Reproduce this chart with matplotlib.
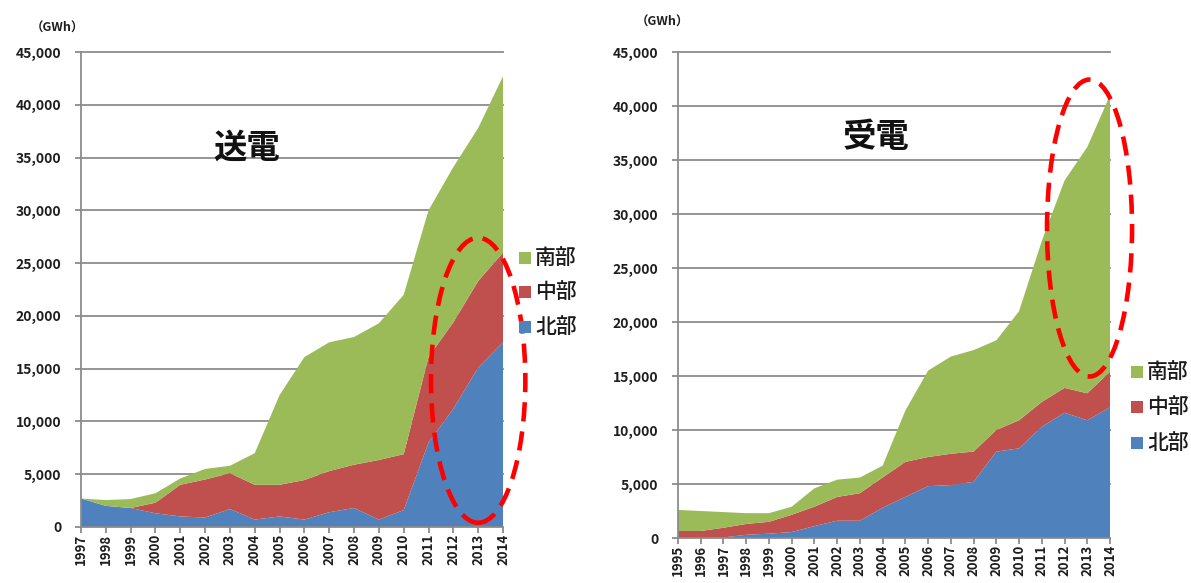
import matplotlib
matplotlib.use("Agg")
import matplotlib.pyplot as plt
from matplotlib.patches import Ellipse, Rectangle
from matplotlib.ticker import FuncFormatter

plt.rcParams["font.family"] = ["Noto Sans CJK JP", "DejaVu Sans"]

# Regions, bottom to top of the stack
regions = ["北部", "中部", "南部"]
colors = ["#4F81BD", "#C0504D", "#9BBB59"]

# 送電 (electricity sent), GWh
send_years = list(range(1997, 2015))
send_north = [2700, 2000, 1800, 1300, 1000, 900, 1700, 700, 1000, 700,
              1400, 1800, 700, 1600, 8000, 11200, 15100, 17500]
send_central = [0, 0, 0, 1000, 3000, 3600, 3400, 3300, 3000, 3750,
                3900, 4100, 5650, 5300, 8100, 8200, 8200, 8500]
send_south = [0, 550, 850, 900, 600, 1000, 700, 3000, 8500, 11650,
              12200, 12100, 12950, 15100, 13900, 14700, 14500, 16700]

# 受電 (electricity received), GWh
recv_years = list(range(1995, 2015))
recv_north = [0, 0, 50, 300, 400, 550, 1100, 1600, 1600, 2800,
              3800, 4800, 4900, 5200, 8000, 8300, 10300, 11600, 10900, 12100]
recv_central = [650, 650, 900, 1000, 1100, 1600, 1800, 2200, 2550, 2800,
                3250, 2700, 2900, 2800, 2000, 2600, 2300, 2300, 2500, 3300]
recv_south = [1950, 1850, 1450, 1000, 800, 750, 1700, 1600, 1450, 1100,
              4750, 8000, 9000, 9400, 8300, 10100, 14900, 19200, 22800, 25600]

y_ticks = list(range(0, 45001, 5000))
unit_label = "（GWh）"

W, H = 1191, 583
fig = plt.figure(figsize=(W / 100, H / 100), dpi=100)


def px_rect(x0, y0, x1, y1):
    return [x0 / W, 1 - y1 / H, (x1 - x0) / W, (y1 - y0) / H]


grid_color = "#8C8C8C"
text_color = "#1E1E1E"


def draw_panel(rect, years, series, title, title_pos, ellipse, legend_x, legend_ys, unit_pos):
    ax = fig.add_axes(rect)
    ax.stackplot(years, *series, colors=colors, labels=regions, linewidth=0, zorder=2)
    ax.set_xlim(years[0], years[-1])
    ax.set_ylim(0, 45000)
    ax.set_xticks(years)
    ax.set_xticklabels([str(y) for y in years], rotation=90, fontsize=9.5,
                       fontweight="bold", color=text_color)
    ax.set_yticks(y_ticks)
    ax.yaxis.set_major_formatter(FuncFormatter(lambda v, p: f"{int(v):,}"))
    for lab in ax.get_yticklabels():
        lab.set_fontsize(10)
        lab.set_fontweight("bold")
        lab.set_color(text_color)
    for yv in y_ticks[1:]:
        ax.axhline(yv, color=grid_color, lw=1.3, zorder=1, clip_on=False)
    for s in ["top", "right"]:
        ax.spines[s].set_visible(False)
    for s in ["left", "bottom"]:
        ax.spines[s].set_color(grid_color)
        ax.spines[s].set_linewidth(1.3)
        ax.spines[s].set_zorder(3)
    ax.tick_params(axis="y", length=4, width=1.3, color=grid_color, pad=10)
    ax.tick_params(axis="x", length=4, width=1.3, color=grid_color, pad=1)

    ax.text(title_pos[0], title_pos[1], title, transform=ax.transAxes,
            fontsize=24, fontweight="bold", color="#111111",
            ha="center", va="center", zorder=4)

    cx, cy, ew, eh = ellipse
    ax.add_patch(Ellipse((cx, cy), ew, eh, fill=False, edgecolor="#FF0000",
                         lw=3.3, linestyle=(0, (4.2, 2.2)), clip_on=False, zorder=5))

    # legend: 南部 on top, 北部 at the bottom
    for name, col, ly in zip(regions[::-1], colors[::-1], legend_ys):
        sq = 12
        fig.patches.append(Rectangle(((legend_x - sq / 2) / W, 1 - (ly + sq / 2) / H),
                                     sq / W, sq / H, facecolor=col, edgecolor="none",
                                     transform=fig.transFigure))
        fig.text((legend_x + 10) / W, 1 - ly / H, name, fontsize=15,
                 fontweight="medium", color="#1A1A1A", ha="left", va="center")

    fig.text(unit_pos[0] / W, 1 - unit_pos[1] / H, unit_label, fontsize=9,
             fontweight="bold", color=text_color, ha="center", va="center")
    return ax


draw_panel(px_rect(81, 52, 503, 527), send_years,
           [send_north, send_central, send_south], "送電", (0.393, 0.798),
           (2013.0, 13900, 3.8, 27000), 525, [258, 292, 327], (57, 28))

draw_panel(px_rect(678, 52, 1110, 538), recv_years,
           [recv_north, recv_central, recv_south], "受電", (0.458, 0.825),
           (2013.1, 28700, 3.74, 27500), 1137, [372, 407, 443], (662, 22))

fig.savefig("out.png", dpi=100, facecolor="white")
